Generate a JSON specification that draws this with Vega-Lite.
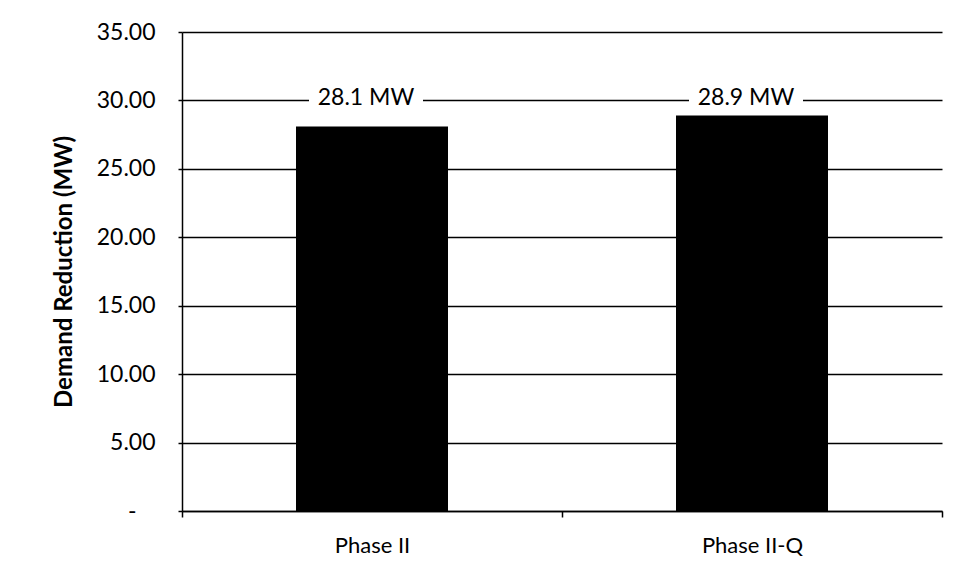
{
  "$schema": "https://vega.github.io/schema/vega-lite/v6.json",
  "autosize": {"type": "none"},
  "width": 760,
  "height": 479,
  "padding": {"left": 182, "top": 32, "right": 16, "bottom": 67},
  "background": "white",
  "config": {
    "font": "Lato",
    "view": {"stroke": null},
    "axis": {"labelFont": "Lato", "titleFont": "Lato", "labelColor": "black", "titleColor": "black"}
  },
  "data": {
    "values": [
      {"phase": "Phase II", "reduction": 28.1, "label": "28.1 MW"},
      {"phase": "Phase II-Q", "reduction": 28.9, "label": "28.9 MW"}
    ]
  },
  "encoding": {
    "x": {
      "field": "phase",
      "type": "nominal",
      "sort": null,
      "scale": {"paddingInner": 0, "paddingOuter": 0},
      "axis": {
        "title": null,
        "labelAngle": 0,
        "labelFontSize": 22,
        "labelPadding": 18,
        "tickBand": "extent",
        "tickSize": 6,
        "tickColor": "black",
        "tickWidth": 1.5,
        "domainColor": "black",
        "domainWidth": 1.5,
        "grid": false
      }
    }
  },
  "layer": [
    {
      "mark": {"type": "bar", "color": "black", "width": {"band": 0.4}},
      "encoding": {
        "y": {
          "field": "reduction",
          "type": "quantitative",
          "scale": {"domain": [0, 35], "nice": false},
          "axis": {
            "title": "Demand Reduction (MW)",
            "titleFontSize": 24,
            "titleFontWeight": "bold",
            "titlePadding": 20,
            "values": [0, 5, 10, 15, 20, 25, 30, 35],
            "labelExpr": "datum.value == 0 ? '-' : format(datum.value, '.2f')",
            "labelFontSize": 23,
            "labelPadding": {"condition": {"test": "datum.value == 0", "value": 42}, "value": 23},
            "tickSize": 4,
            "tickColor": "black",
            "tickWidth": 1.5,
            "domainColor": "black",
            "domainWidth": 1.5,
            "grid": true,
            "gridColor": "black",
            "gridWidth": 1.5,
            "zindex": 0
          }
        }
      }
    },
    {
      "mark": {"type": "bar", "fill": "white", "stroke": null, "opacity": 1, "width": {"band": 0.3}, "xOffset": -6},
      "encoding": {
        "y": {"datum": 29.2, "type": "quantitative", "stack": null},
        "y2": {"datum": 30.8}
      }
    },
    {
      "mark": {"type": "text", "fontSize": 23, "color": "black", "baseline": "middle", "dx": -6, "dy": -2},
      "encoding": {
        "y": {"datum": 30, "type": "quantitative"},
        "text": {"field": "label"}
      }
    }
  ]
}
